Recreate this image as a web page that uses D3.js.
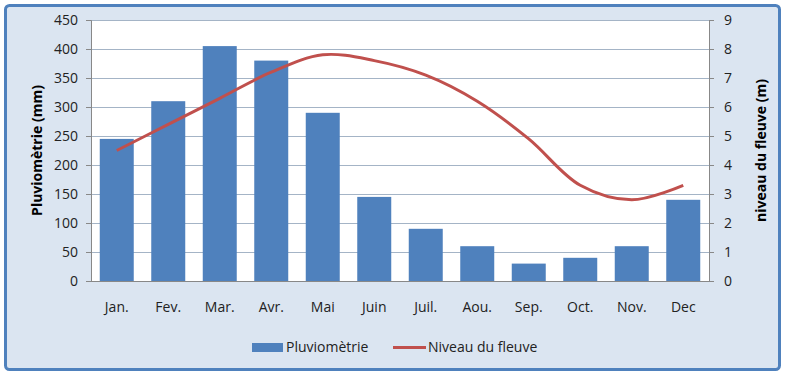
<!DOCTYPE html>
<html><head><meta charset="utf-8">
<script src="https://cdn.jsdelivr.net/npm/d3@7"></script>
<style>body{margin:0;background:#fff;} svg{display:block;font-family:"Open Sans","Liberation Sans",sans-serif;}</style>
</head><body>
<script>
const months = ["Jan.","Fev.","Mar.","Avr.","Mai","Juin","Juil.","Aou.","Sep.","Oct.","Nov.","Dec"];
const pluvio = [245,310,405,380,290,145,90,60,30,40,60,140];
const niveau = [4.5,5.4,6.3,7.2,7.8,7.6,7.1,6.2,4.9,3.3,2.8,3.3];
const leftTicks = [0,50,100,150,200,250,300,350,400,450];
const rightTicks = [0,1,2,3,4,5,6,7,8,9];

const W=788,H=377;
const svg=d3.select("body").append("svg").attr("width",W).attr("height",H);
svg.append("rect").attr("x",5.5).attr("y",5.5).attr("width",774).attr("height",364).attr("rx",4)
  .attr("fill","#dbe5f1").attr("stroke","#4f81bd").attr("stroke-width",3);

const L=91,R=709,T=20,B=281;
const x=d3.scaleBand().domain(months).range([L,R]).paddingInner(0.34).paddingOuter(0.17);
const y=d3.scaleLinear().domain([0,450]).range([B,T]);
const y2=d3.scaleLinear().domain([0,9]).range([B,T]);

svg.append("rect").attr("x",L).attr("y",T).attr("width",R-L).attr("height",B-T).attr("fill","#fff");
svg.append("g").selectAll("line").data(leftTicks.slice(1)).join("line")
  .attr("x1",L).attr("x2",R).attr("y1",d=>Math.round(y(d))+0.5).attr("y2",d=>Math.round(y(d))+0.5)
  .attr("stroke","#a4b4c6").attr("stroke-width",1);

const ax=svg.append("g").attr("transform",`translate(${L},0)`)
  .call(d3.axisLeft(y).tickValues(leftTicks).tickSize(5).tickPadding(8));
const ax2=svg.append("g").attr("transform",`translate(${R},0)`)
  .call(d3.axisRight(y2).tickValues(rightTicks).tickSize(5).tickPadding(10));
[ax,ax2].forEach(a=>{a.select(".domain").attr("stroke","#888");a.selectAll(".tick line").attr("stroke","#888");
  a.selectAll("text").attr("font-size",14).attr("fill","#222").attr("font-family","'Open Sans',sans-serif");});

svg.append("g").selectAll("rect").data(months).join("rect")
  .attr("x",d=>x(d)).attr("width",x.bandwidth())
  .attr("y",(d,i)=>y(pluvio[i])).attr("height",(d,i)=>B-y(pluvio[i])).attr("fill","#4f81bd");

svg.append("line").attr("x1",L).attr("x2",R).attr("y1",B+0.5).attr("y2",B+0.5).attr("stroke","#888");

svg.append("g").selectAll("text").data(months).join("text")
  .attr("x",d=>x(d)+x.bandwidth()/2).attr("y",312).attr("text-anchor","middle")
  .attr("font-size",14).attr("fill","#222").text(d=>d);

const line=d3.line().x((d,i)=>x(months[i])+x.bandwidth()/2).y(d=>y2(d)).curve(d3.curveCatmullRom.alpha(0.5));
svg.append("path").datum(niveau).attr("d",line).attr("fill","none").attr("stroke","#c0504d").attr("stroke-width",3);

svg.append("text").attr("transform","translate(42,150.5) rotate(-90)").attr("text-anchor","middle")
  .attr("font-size",14).attr("font-weight","bold").attr("fill","#000").text("Pluviomètrie (mm)");
svg.append("text").attr("transform","translate(766,150.5) rotate(-90)").attr("text-anchor","middle")
  .attr("font-size",14).attr("font-weight","bold").attr("fill","#000").text("niveau du fleuve (m)");

const lg=svg.append("g");
lg.append("rect").attr("x",252).attr("y",343).attr("width",31).attr("height",9).attr("fill","#4f81bd");
lg.append("text").attr("x",286).attr("y",352).attr("font-size",14).attr("fill","#222").text("Pluviomètrie");
lg.append("line").attr("x1",393).attr("x2",426).attr("y1",347.5).attr("y2",347.5).attr("stroke","#c0504d").attr("stroke-width",3);
lg.append("text").attr("x",428).attr("y",352).attr("font-size",14).attr("fill","#222").text("Niveau du fleuve");
</script>
</body></html>
